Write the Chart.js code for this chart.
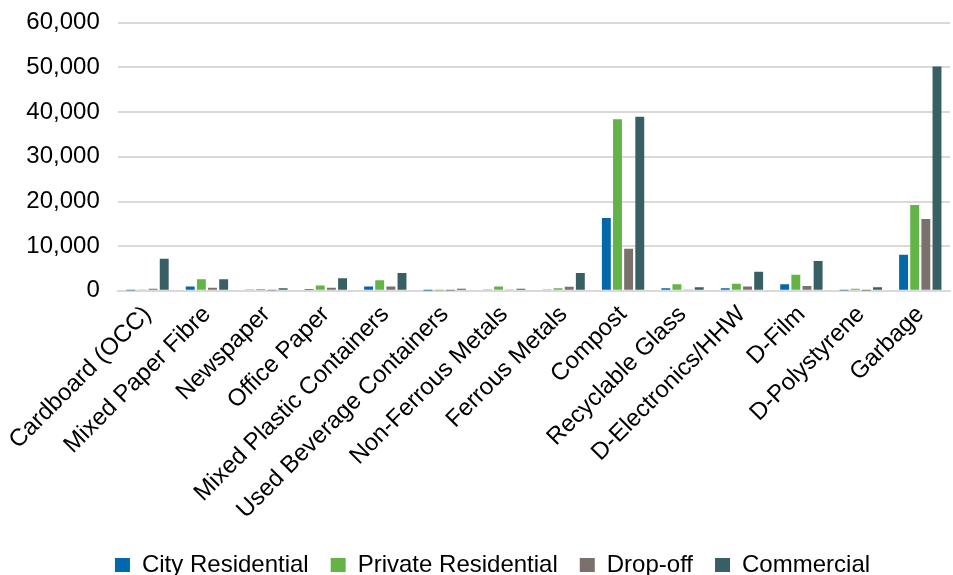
<!DOCTYPE html>
<html>
<head>
<meta charset="utf-8">
<script src="https://cdn.jsdelivr.net/npm/chart.js@4.4.1/dist/chart.umd.min.js"></script>
<style>
html,body{margin:0;padding:0;background:#fff;overflow:hidden;}
#wrap{width:953px;height:590px;position:relative;}
</style>
</head>
<body>
<div id="wrap"><canvas id="c" width="953" height="590"></canvas></div>
<script>
const categories = ["Cardboard (OCC)","Mixed Paper Fibre","Newspaper","Office Paper","Mixed Plastic Containers","Used Beverage Containers","Non-Ferrous Metals","Ferrous Metals","Compost","Recyclable Glass","D-Electronics/HHW","D-Film","D-Polystyrene","Garbage"];
const cityResidential    = [100, 1000, 200, 400, 1000, 50, 300, 200, 16300, 600, 600, 1500, 100, 8100];
const privateResidential = [300, 2600, 400, 1200, 2400, 100, 1000, 600, 38400, 1500, 1600, 3600, 500, 19200];
const dropOff            = [500, 700, 100, 700, 1000, 50, 300, 900, 9400, 300, 1000, 1100, 50, 16100];
const commercial         = [7200, 2600, 600, 2800, 4000, 500, 500, 4000, 39000, 800, 4300, 6700, 800, 50200];
const seriesNames = ["City Residential","Private Residential","Drop-off","Commercial"];
const yTicks = [0,10000,20000,30000,40000,50000,60000];

const colors = ["#0068AB","#62B446","#7A706C","#375F64"];
const allSeries = [cityResidential, privateResidential, dropOff, commercial];

const shiftLegend = {
  id: 'shiftLegend',
  afterLayout(chart) {
    const lg = chart.legend;
    if (lg) { lg.left += 15; lg.right += 15; lg.top -= 3; lg.bottom -= 3; }
  }
};

new Chart(document.getElementById('c'), {
  type: 'bar',
  data: {
    labels: categories,
    datasets: allSeries.map((d,i)=>({
      label: seriesNames[i],
      data: d,
      backgroundColor: colors[i],
      borderWidth: 0,
      categoryPercentage: 0.75,
      barPercentage: 0.8
    }))
  },
  plugins: [shiftLegend],
  options: {
    responsive: false,
    animation: false,
    layout: { padding: { left: 5, right: 3, top: 0, bottom: 0 } },
    plugins: {
      legend: {
        position: 'bottom',
        labels: {
          font: { family: 'Liberation Sans, Arial', size: 24 },
          color: '#000',
          boxWidth: 15,
          boxHeight: 14,
          padding: 22
        }
      },
      tooltip: { enabled: false }
    },
    scales: {
      x: {
        grid: { display: false, drawTicks: false },
        border: { display: true, color: '#d9d9d9', width: 2 },
        ticks: {
          font: { family: 'Liberation Sans, Arial', size: 24 },
          color: '#000',
          maxRotation: 45,
          minRotation: 45,
          autoSkip: false,
          padding: 9.5
        }
      },
      y: {
        min: 0, max: 60000,
        afterBuildTicks: (s) => { s.ticks = yTicks.map(v=>({value:v})); },
        grid: { color: '#d9d9d9', lineWidth: 2, drawTicks: false },
        border: { display: false },
        ticks: {
          font: { family: 'Liberation Sans, Arial', size: 24, lineHeight: 0.4 },
          color: '#000',
          padding: 18,
          callback: (v) => v.toLocaleString('en-US')
        }
      }
    }
  }
});
</script>
</body>
</html>
